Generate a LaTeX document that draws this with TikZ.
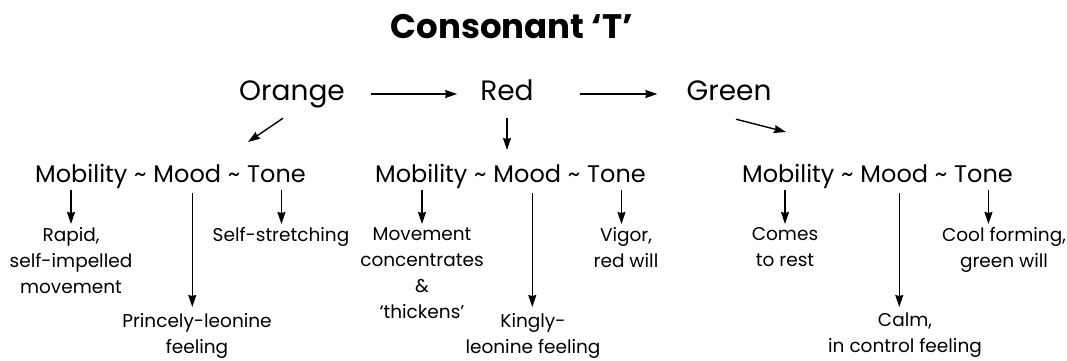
\documentclass[tikz,border=0pt]{standalone}
\usepackage{fontspec}
\setmainfont{Poppins}
\usetikzlibrary{arrows.meta,calc}
\begin{document}
\begin{tikzpicture}[x=1pt,y=-1pt,
  every node/.style={inner sep=0pt, text=black},
  ttl/.style={font=\bfseries\fontsize{34}{42}\selectfont, anchor=base},
  hdr/.style={font=\fontsize{28}{34}\selectfont, text height=20pt, text depth=8pt},
  wrd/.style={font=\fontsize{24}{28}\selectfont, anchor=base west, text height=18pt, text depth=6pt},
  lbl/.style={font=\fontsize{18.5}{26}\selectfont, align=center, anchor=north},
  arr/.style={line width=1.4pt, -{Stealth[length=12pt,width=8pt,inset=1pt]}},
]
\useasboundingbox (0,0) rectangle (1067,360);

\node[ttl] (title) at (512,38) {Consonant ‘T’};

\node[hdr] (orange) at (292,94) {Orange};
\node[hdr] (red) at (507,94) {Red};
\node[hdr] (green) at (729,94) {Green};

\draw[arr, shorten <=26pt, shorten >=23pt] (orange.east) -- (red.west);
\draw[arr, shorten <=46pt, shorten >=29pt] (red.east) -- (green.west);

\coordinate (g1) at (248,142);
\coordinate (g2) at (507,150);
\coordinate (g3) at (786,132);
\draw[arr] ($(orange.south)+(-9,10)$) -- (g1);
\draw[arr] ($(red.south)+(0,10)$) -- (g2);
\draw[arr] ($(green.south)+(7,11)$) -- (g3);

\foreach \g/\x in {1/35,2/375,3/742}{
  \node[wrd] (mob\g) at (\x,182) {Mobility};
  \node[wrd] (ta\g) at (mob\g.base east) {\ \textasciitilde\ \mbox{}};
  \node[wrd] (mood\g) at (ta\g.base east) {Mood};
  \node[wrd] (tb\g) at (mood\g.base east) {\ \textasciitilde\ \mbox{}};
  \node[wrd] (tone\g) at (tb\g.base east) {Tone};
}

\node[lbl] (rapid) at (71,227) {Rapid,\\self-impelled\\movement};
\node[lbl] (selfs) at (281,227) {Self-stretching};
\node[lbl] (prince) at (197,313) {Princely-leonine\\feeling};
\node[lbl] (movem) at (422,227) {Movement\\concentrates\\\&\\‘thickens’};
\node[lbl] (kingly) at (533,313) {Kingly-\\leonine feeling};
\node[lbl] (vigor) at (626,227) {Vigor,\\red will};
\node[lbl] (comes) at (785,227) {Comes\\to rest};
\node[lbl] (calm) at (905,313) {Calm,\\in control feeling};
\node[lbl] (cool) at (1004,227) {Cool forming,\\green will};

\tikzset{sh/.style={xshift=5pt}}
\draw[arr, shorten <=2pt, shorten >=3pt] (mob1.south -| rapid.north) -- (rapid.north);
\draw[arr, shorten <=5pt, shorten >=6pt] ([sh]mood1.south) -- ([sh]mood1.south |- prince.north);
\draw[arr, shorten <=2pt, shorten >=3pt] ([sh]tone1.south) -- ([sh]tone1.south |- selfs.north);

\draw[arr, shorten <=2pt, shorten >=3pt] (mob2.south -| movem.north) -- (movem.north);
\draw[arr, shorten <=5pt, shorten >=6pt] ([sh]mood2.south) -- ([sh]mood2.south |- kingly.north);
\draw[arr, shorten <=2pt, shorten >=3pt] ([sh]tone2.south) -- ([sh]tone2.south |- vigor.north);

\draw[arr, shorten <=2pt, shorten >=3pt] (mob3.south -| comes.north) -- (comes.north);
\draw[arr, shorten <=5pt, shorten >=6pt] ([sh]mood3.south) -- ([sh]mood3.south |- calm.north);
\draw[arr, shorten <=2pt, shorten >=3pt] ([sh]tone3.south) -- ([sh]tone3.south |- cool.north);
\end{tikzpicture}
\end{document}
